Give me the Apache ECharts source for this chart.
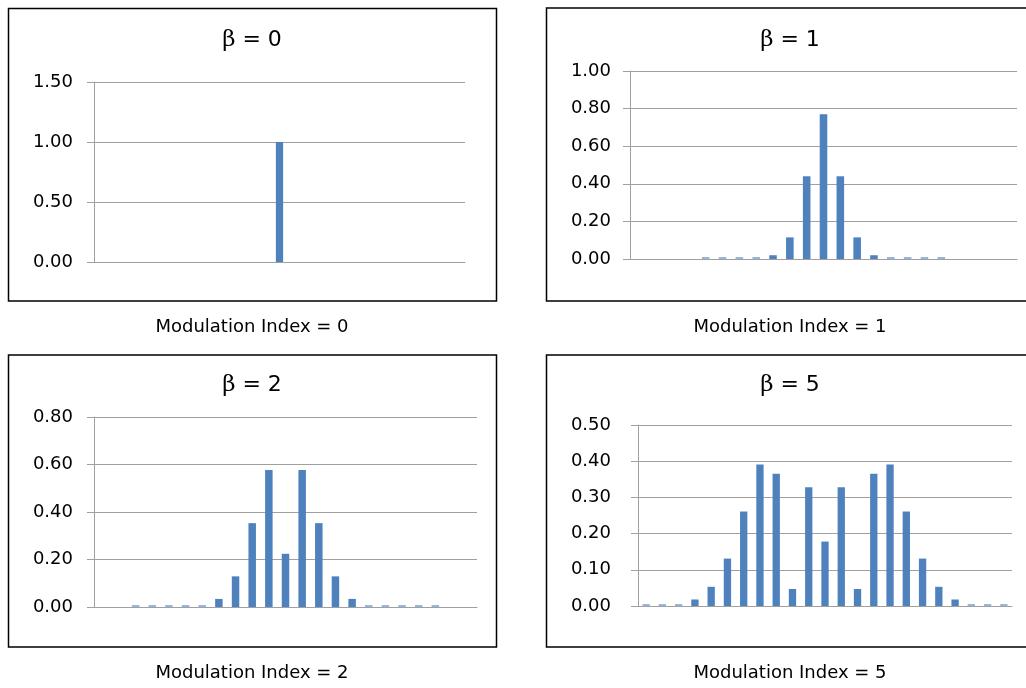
<!DOCTYPE html>
<html><head><meta charset="utf-8">
<script src="https://cdn.jsdelivr.net/npm/echarts@6/dist/echarts.min.js"></script>
<style>html,body{margin:0;padding:0;background:#fff}#c{width:1026px;height:688px}</style>
</head><body><div id="c"></div><script>
// sideband index n = -11 .. 11
const sidebands = ['-11','-10','-9','-8','-7','-6','-5','-4','-3','-2','-1','0','1','2','3','4','5','6','7','8','9','10','11'];
const betas = [0, 1, 2, 5];
const captions = ['Modulation Index = 0','Modulation Index = 1','Modulation Index = 2','Modulation Index = 5'];
const amp0 = [null,null,null,null,null,null,null,null,null,null,null,1.00,null,null,null,null,null,null,null,null,null,null,null];
const amp1 = [null,null,null,null,0.000001,0.00001,0.0002,0.0025,0.02,0.115,0.44,0.77,0.44,0.115,0.02,0.0025,0.0002,0.00001,0.000001,null,null,null,null];
const amp2 = [null,null,0.000003,0.00002,0.0002,0.0012,0.007,0.034,0.129,0.353,0.577,0.224,0.577,0.353,0.129,0.034,0.007,0.0012,0.0002,0.00002,0.000003,null,null];
const amp5 = [0.0004,0.0015,0.0055,0.018,0.053,0.131,0.261,0.391,0.365,0.047,0.328,0.178,0.328,0.047,0.365,0.391,0.261,0.131,0.053,0.018,0.0055,0.0015,0.0004];
const yMax = [1.5, 1.0, 0.8, 0.5];
const yStep = [0.5, 0.2, 0.2, 0.1];
const amps = [amp0, amp1, amp2, amp5];

const FONT = 'DejaVu Sans';
const grids = [
  {left: 94, top: 82, width: 371, height: 180},
  {left: 630, top: 71, width: 387, height: 188},
  {left: 94, top: 417, width: 383, height: 190},
  {left: 638, top: 425, width: 374, height: 181}
];
const labelMargin = [21, 19, 21, 27];
const boxes = [
  {x: 8.5, y: 8.5, w: 488, h: 292.5},
  {x: 546.5, y: 8, w: 482, h: 293},
  {x: 8.5, y: 355, w: 488, h: 292},
  {x: 546.5, y: 355, w: 482, h: 292}
];
const titleCenters = [[252, 27], [790, 27], [252, 372], [790, 372]];
const captionCenters = [[252, 316], [790, 316], [252, 662], [790, 662]];

const chart = echarts.init(document.getElementById('c'));
const option = {
  animation: false,
  backgroundColor: '#fff',
  title: [],
  grid: grids,
  xAxis: grids.map((g, i) => ({
    type: 'category', gridIndex: i, data: sidebands,
    axisLine: {show: true, lineStyle: {color: '#a0a0a0', width: 1}},
    axisTick: {show: false}, axisLabel: {show: false}, splitLine: {show: false}
  })),
  yAxis: grids.map((g, i) => ({
    type: 'value', gridIndex: i, min: 0, max: yMax[i], interval: yStep[i],
    axisLine: {show: true, lineStyle: {color: '#a0a0a0', width: 1}},
    axisTick: {show: true, length: 7, lineStyle: {color: '#a0a0a0'}},
    splitLine: {show: true, lineStyle: {color: '#a0a0a0', width: 1}},
    axisLabel: {margin: labelMargin[i], fontFamily: FONT, fontSize: 18, color: '#000',
      formatter: v => v.toFixed(2)}
  })),
  series: amps.map((d, i) => ({
    type: 'bar', xAxisIndex: i, yAxisIndex: i, data: d,
    barCategoryGap: '55%', barMinHeight: 2,
    itemStyle: {color: p => (p.value != null && p.value < 0.008) ? '#9ab5dc' : '#4f81bd'}
  })),
  graphic: boxes.map(b => ({
    type: 'rect', shape: {x: b.x, y: b.y, width: b.w, height: b.h},
    style: {fill: 'none', stroke: '#000', lineWidth: 1.5}, z: 10, silent: true
  }))
};
betas.forEach((b, i) => {
  option.title.push({
    text: '{g|β} = ' + b,
    left: titleCenters[i][0], top: titleCenters[i][1], textAlign: 'center',
    padding: 0,
    textStyle: {fontFamily: FONT, fontSize: 22, fontWeight: 'normal', color: '#000', lineHeight: 26,
      rich: {g: {fontFamily: 'DejaVu Serif', fontSize: 23, color: '#000', lineHeight: 26}}}
  });
  option.title.push({
    text: captions[i],
    left: captionCenters[i][0], top: captionCenters[i][1], textAlign: 'center',
    padding: 0,
    textStyle: {fontFamily: FONT, fontSize: 18, fontWeight: 'normal', color: '#000', lineHeight: 22}
  });
});
chart.setOption(option);
</script></body></html>
